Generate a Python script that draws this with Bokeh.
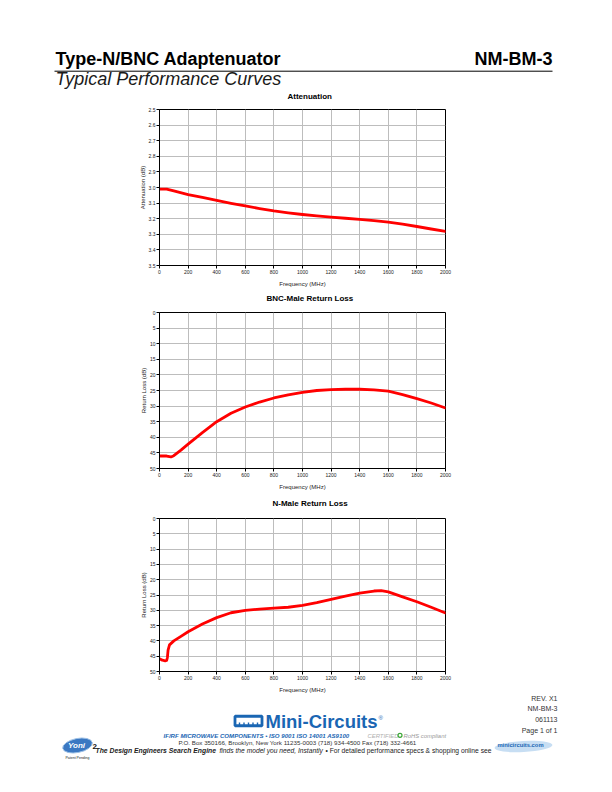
from bokeh.plotting import figure
from bokeh.layouts import column
from bokeh.models import Range1d, FixedTicker, PrintfTickFormatter, Title
from bokeh.embed import file_html
from bokeh.resources import INLINE
from bokeh.core.properties import value

FONT = "Liberation Sans"
BLUE = "#1a66b3"
W = 612

# ---------------- data ----------------
FREQ_TICKS = [0, 200, 400, 600, 800, 1000, 1200, 1400, 1600, 1800, 2000]
ATT_TICKS = [2.5, 2.6, 2.7, 2.8, 2.9, 3.0, 3.1, 3.2, 3.3, 3.4, 3.5]
RL_TICKS = [0, 5, 10, 15, 20, 25, 30, 35, 40, 45, 50]

ATT_FREQ = [0, 50, 100, 200, 300, 400, 500, 600, 700, 800, 900, 1000, 1100,
            1200, 1300, 1400, 1500, 1600, 1700, 1800, 1900, 2000]
ATT_DB = [3.01, 3.01, 3.022, 3.045, 3.064, 3.083, 3.101, 3.118, 3.135, 3.150,
          3.162, 3.173, 3.182, 3.190, 3.197, 3.205, 3.213, 3.222, 3.235, 3.250,
          3.266, 3.282]

BNC_FREQ = [0, 50, 80, 100, 150, 200, 300, 400, 500, 600, 700, 800, 900, 1000,
            1100, 1200, 1300, 1400, 1500, 1600, 1700, 1800, 1900, 2000]
BNC_RL = [46.0, 46.0, 46.3, 45.9, 44.1, 42.2, 38.5, 35.0, 32.3, 30.3, 28.7,
          27.4, 26.4, 25.6, 25.0, 24.7, 24.6, 24.6, 24.8, 25.2, 26.3, 27.6,
          29.0, 30.6]

NM_FREQ = [0, 20, 40, 50, 55, 60, 70, 100, 150, 200, 300, 400, 500, 600, 700,
           800, 900, 1000, 1100, 1200, 1300, 1400, 1500, 1550, 1600, 1700, 1800,
           1900, 2000]
NM_RL = [45.8, 46.3, 46.5, 46.4, 45.5, 43.0, 41.3, 40.0, 38.5, 37.0, 34.5,
         32.4, 30.8, 30.0, 29.6, 29.3, 29.0, 28.4, 27.5, 26.4, 25.4, 24.4, 23.7,
         23.6, 24.0, 25.6, 27.2, 29.0, 30.9]


def chart(title, ylabel, xs, ys, yrange, yticks, yfmt, h, top, title_off, gap):
    p = figure(width=W, height=h, output_backend="svg", toolbar_location=None,
               x_range=Range1d(0, 2000), y_range=Range1d(yrange[1], yrange[0]),
               min_border_left=159, min_border_right=W - 159 - 286,
               min_border_top=top, min_border_bottom=h - top - 156,
               frame_align=False, title=None)
    p.background_fill_color = "white"
    p.border_fill_color = "white"
    p.outline_line_color = "black"
    p.outline_line_width = 1
    p.outline_line_alpha = 1
    # thin spacer next to the frame, then the chart title above it
    p.add_layout(Title(text="\u00a0", text_font_size="1px", standoff=gap,
                       text_color="white"), "above")
    p.add_layout(Title(text=title, text_font=FONT, text_font_size="8px",
                       text_font_style="bold", align="left", offset=title_off,
                       vertical_align="middle", standoff=0,
                       text_color="black"), "above")
    p.xaxis.ticker = FixedTicker(ticks=FREQ_TICKS)
    p.yaxis.ticker = FixedTicker(ticks=yticks)
    p.yaxis.formatter = PrintfTickFormatter(format=yfmt)
    p.xaxis.axis_label = "Frequency (MHz)"
    p.yaxis.axis_label = ylabel
    for ax in (p.xaxis, p.yaxis):
        ax.axis_label_text_font = FONT
        ax.axis_label_text_font_size = "6px"
        ax.axis_label_text_font_style = "normal"
        ax.axis_label_text_color = "#222222"
        ax.major_label_text_font = FONT
        ax.major_label_text_font_size = "5px"
        ax.major_label_text_color = "#222222"
        ax.major_tick_out = 3
        ax.major_tick_in = 0
        ax.minor_tick_out = 0
        ax.minor_tick_in = 0
        ax.axis_line_color = "black"
        ax.major_tick_line_color = "black"
        ax.major_label_standoff = 1
    p.xaxis.axis_label_standoff = 4
    p.yaxis.axis_label_standoff = 0
    p.grid.grid_line_color = "#bdbdbd"
    p.grid.grid_line_width = 1
    p.xgrid.ticker = FixedTicker(ticks=FREQ_TICKS)
    p.ygrid.ticker = FixedTicker(ticks=yticks)
    p.line(xs, ys, line_color="#ff0000", line_width=2.8, line_join="round",
           line_cap="round")
    return p


def canvas(h):
    c = figure(width=W, height=h, output_backend="svg", toolbar_location=None,
               x_range=Range1d(0, W), y_range=Range1d(h, 0), title=None,
               x_axis_type=None, y_axis_type=None, min_border=0,
               frame_align=False)
    c.outline_line_color = None
    c.grid.visible = False
    return c


# ---------------- header ----------------
HEAD_H = 89
hdr = canvas(HEAD_H)
hdr.text(x=[55], y=[58.3], text=["Type-N/BNC Adaptenuator"], text_font=value(FONT),
         text_font_size="18px", text_font_style="bold", text_baseline="middle",
         text_align="left", text_color="black")
hdr.text(x=[552], y=[58.3], text=["NM-BM-3"], text_font=value(FONT),
         text_font_size="18px", text_font_style="bold", text_baseline="middle",
         text_align="right", text_color="black")
hdr.line(x=[54, 552], y=[70.7, 70.7], line_color="black", line_width=1)
hdr.text(x=[55], y=[78.8], text=["Typical Performance Curves"], text_font=value(FONT),
         text_font_size="18px", text_font_style="italic", text_baseline="middle",
         text_align="left", text_color="#1a1a1a")

# ---------------- charts ----------------
p1 = chart("Attenuation", "Attenuation (dB)", ATT_FREQ, ATT_DB, (2.5, 3.5),
           ATT_TICKS, "%.1f", 202, 20, 128, 5)
p2 = chart("BNC-Male Return Loss", "Return Loss (dB)", BNC_FREQ, BNC_RL, (0, 50),
           RL_TICKS, "%d", 204, 21, 107, 6)
p3 = chart("N-Male Return Loss", "Return Loss (dB)", NM_FREQ, NM_RL, (0, 50),
           RL_TICKS, "%d", 200, 23, 113, 7)

# ---------------- footer ----------------
FOOT_H = 792 - HEAD_H - 202 - 204 - 200
ftr = canvas(FOOT_H)
FY = 792 - FOOT_H  # page y of the footer's top edge

ftr.text(x=[557, 557, 557, 557], y=[698 - FY, 708 - FY, 718.5 - FY, 729.5 - FY],
         text=["REV. X1", "NM-BM-3", "061113", "Page 1 of 1"],
         text_font=value(FONT), text_font_size="7px", text_baseline="middle",
         text_align="right", text_color="#333333")

# Mini-Circuits logo
ftr.rect(x=[248], y=[720.5 - FY], width=[27], height=[9.5], fill_color=None,
         line_color=BLUE, line_width=2.8)
ftr.segment(x0=[239, 243.5, 248, 252.5, 257], y0=[722 - FY] * 5,
            x1=[239, 243.5, 248, 252.5, 257], y1=[725 - FY] * 5,
            line_color=BLUE, line_width=1.4)
ftr.text(x=[265], y=[721 - FY], text=["Mini-Circuits"], text_font=value(FONT),
         text_font_size="18.5px", text_font_style="bold", text_baseline="middle",
         text_align="left", text_color=BLUE)
ftr.text(x=[378], y=[717 - FY], text=["\u00ae"], text_font=value(FONT),
         text_font_size="6px", text_baseline="middle", text_align="left",
         text_color=BLUE)

ftr.text(x=[163], y=[735 - FY],
         text=["IF/RF MICROWAVE COMPONENTS \u2022 ISO 9001  ISO 14001  AS9100"],
         text_font=value(FONT), text_font_size="6.1px",
         text_font_style="bold italic", text_baseline="middle",
         text_align="left", text_color=BLUE)
ftr.text(x=[367], y=[735 - FY], text=["CERTIFIED"], text_font=value(FONT),
         text_font_size="5.9px", text_font_style="italic", text_baseline="middle",
         text_align="left", text_color="#b0b0b0")
ftr.circle(x=[399.5], y=[734.8 - FY], radius=2.0, fill_color=None,
           line_color="#3aa635", line_width=1.2)
ftr.text(x=[403], y=[735 - FY], text=["RoHS compliant"], text_font=value(FONT),
         text_font_size="5.9px", text_font_style="italic", text_baseline="middle",
         text_align="left", text_color="#999999")
ftr.text(x=[178], y=[742.3 - FY],
         text=["P.O. Box 350166, Brooklyn, New York 11235-0003  (718) 934-4500  Fax (718) 332-4661"],
         text_font=value(FONT), text_font_size="6.2px", text_baseline="middle",
         text_align="left", text_color="#333333")
ftr.text(x=[95], y=[750 - FY], text=["The Design Engineers Search Engine"],
         text_font=value(FONT), text_font_size="6.8px",
         text_font_style="bold italic", text_baseline="middle",
         text_align="left", text_color="#222222")
ftr.text(x=[219], y=[750 - FY], text=["finds the model you need, Instantly"],
         text_font=value(FONT), text_font_size="6.7px", text_font_style="italic",
         text_baseline="middle", text_align="left", text_color="#222222")
ftr.text(x=[325], y=[750 - FY],
         text=["\u2022 For detailed performance specs & shopping online see"],
         text_font=value(FONT), text_font_size="6.7px", text_baseline="middle",
         text_align="left", text_color="#222222")

# minicircuits.com badge
ftr.ellipse(x=[523], y=[746 - FY], width=[58], height=[11], angle=0.05,
            fill_color="#c7def3", line_color=None)
ftr.text(x=[520], y=[744.5 - FY], text=["minicircuits.com"], text_font=value(FONT),
         text_font_size="5.8px", text_font_style="bold", text_baseline="middle",
         text_align="center", text_color=BLUE)

# Yoni2 badge
ftr.ellipse(x=[77], y=[745 - FY], width=[30], height=[14], angle=0.2,
            fill_color="#3b78c2", line_color="#9cc0e6", line_width=1)
ftr.text(x=[76], y=[744.5 - FY], text=["Yoni"], text_font=value(FONT),
         text_font_size="8px", text_font_style="bold italic", text_baseline="middle",
         text_align="center", text_color="white")
ftr.text(x=[92], y=[746 - FY], text=["2"], text_font=value(FONT),
         text_font_size="8px", text_font_style="bold", text_baseline="middle",
         text_align="left", text_color="#111111")
ftr.text(x=[77], y=[757 - FY], text=["Patent Pending"], text_font=value(FONT),
         text_font_size="3.5px", text_baseline="middle", text_align="center",
         text_color="#222222")

layout = column(hdr, p1, p2, p3, ftr, spacing=0)
open("out.html", "w").write(file_html(layout, INLINE))
